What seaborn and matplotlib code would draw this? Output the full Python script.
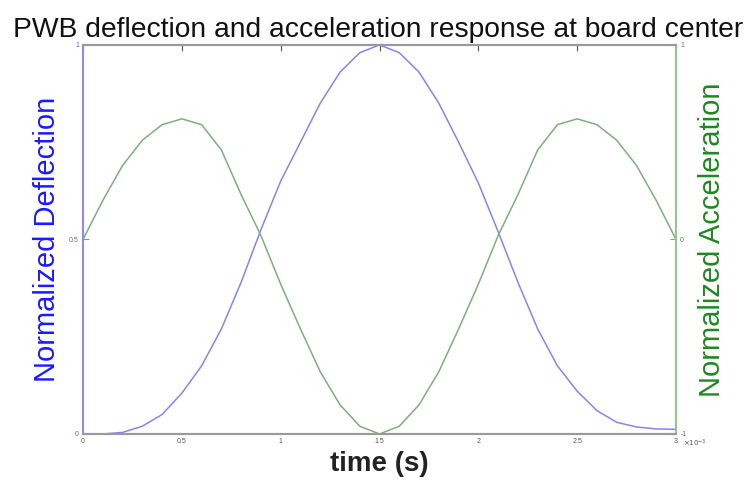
import numpy as np
import pandas as pd
import matplotlib
matplotlib.use("Agg")
import matplotlib.pyplot as plt
import seaborn as sns

# time in units of 1e-3 s
time_ms = [0.0, 0.1, 0.2, 0.3, 0.4, 0.5, 0.6, 0.7, 0.8, 0.9,
           1.0, 1.1, 1.2, 1.3, 1.4, 1.5, 1.6, 1.7, 1.8, 1.9,
           2.0, 2.1, 2.2, 2.3, 2.4, 2.5, 2.6, 2.7, 2.8, 2.9, 3.0]
deflection = [0.0, 0.0, 0.004, 0.02, 0.05, 0.105, 0.175, 0.27, 0.39, 0.525,
              0.65, 0.75, 0.85, 0.93, 0.98, 1.0, 0.98, 0.93, 0.85, 0.75,
              0.645, 0.52, 0.39, 0.27, 0.175, 0.11, 0.06, 0.03, 0.018, 0.013, 0.012]
acceleration = [0.0, 0.2, 0.38, 0.51, 0.59, 0.62, 0.59, 0.46, 0.23, 0.02,
                -0.23, -0.46, -0.68, -0.85, -0.96, -1.0, -0.96, -0.85, -0.68, -0.46,
                -0.23, 0.02, 0.23, 0.46, 0.59, 0.62, 0.59, 0.51, 0.38, 0.2, 0.0]

x_ticks = [0, 0.5, 1, 1.5, 2, 2.5, 3]
x_ticklabels = ["0", "0.5", "1", "1.5", "2", "2.5", "3"]
left_ticks = [0, 0.5, 1]
left_ticklabels = ["0", "0.5", "1"]
right_ticks = [-1, 0, 1]
right_ticklabels = ["-1", "0", "1"]

df = pd.DataFrame({"t": time_ms, "deflection": deflection, "acceleration": acceleration})

sns.set_style("white")
plt.rcParams["font.family"] = ["Liberation Sans", "DejaVu Sans"]

BLUE_LINE = "#8585ee"
GREEN_LINE = "#7fae7f"
BLUE_TXT = "#1a1aff"
GREEN_TXT = "#1c8a1c"
GREY = "#9a9a9a"

fig = plt.figure(figsize=(7.52, 4.83), dpi=100)
ax = fig.add_axes([0.1104, 0.1015, 0.7886, 0.8055])
ax2 = ax.twinx()

sns.lineplot(data=df, x="t", y="deflection", ax=ax, color=BLUE_LINE, linewidth=1.1)
sns.lineplot(data=df, x="t", y="acceleration", ax=ax2, color=GREEN_LINE, linewidth=1.1)

ax.set_xlim(0, 3)
ax.set_ylim(0, 1)
ax2.set_ylim(-1, 1)

ax.set_xticks(x_ticks)
ax.set_xticklabels(x_ticklabels)
ax.set_yticks(left_ticks)
ax.set_yticklabels(left_ticklabels)
ax2.set_yticks(right_ticks)
ax2.set_yticklabels(right_ticklabels)

for a in (ax, ax2):
    a.tick_params(direction="in", length=4, width=0.8, labelsize=5, colors="#555555", pad=3)
    for s in a.spines.values():
        s.set_linewidth(1.5)
        s.set_color(GREY)
ax.tick_params(axis="x", top=True, color="#555555")
ax.tick_params(axis="y", color=BLUE_LINE, labelcolor="#6060c0")
ax2.tick_params(axis="y", color=GREEN_LINE, labelcolor="#4a8a4a")
ax.spines["left"].set_color("#8a8af0")
ax2.spines["left"].set_visible(False)
ax2.spines["right"].set_color("#8fc98f")
ax.spines["right"].set_visible(False)

ax.set_xlabel("time (s)", fontsize=20, fontweight="bold", color="#222222", labelpad=4)
ax.set_ylabel("Normalized Deflection", fontsize=21, color=BLUE_TXT, labelpad=6)
ax2.set_ylabel("Normalized Acceleration", fontsize=21, color=GREEN_TXT, labelpad=8)
ax.set_title("PWB deflection and acceleration response at board center",
             fontsize=20.3, color="#111111", pad=6, x=0.497)

fig.text(0.908, 0.082, r"$\times10^{-3}$", fontsize=5, color="#555555", ha="left", va="center")

fig.savefig("out.png", dpi=100)
